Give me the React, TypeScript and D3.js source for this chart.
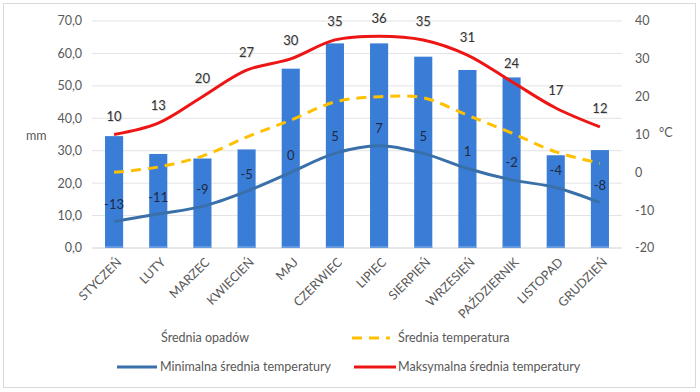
import React from "react";
import * as d3 from "d3";

const months = ["STYCZEŃ", "LUTY", "MARZEC", "KWIECIEŃ", "MAJ", "CZERWIEC", "LIPIEC", "SIERPIEŃ", "WRZESIEŃ", "PAŹDZIERNIK", "LISTOPAD", "GRUDZIEŃ"];
const rainfall = [34.5, 29.0, 27.6, 30.4, 55.3, 63.1, 63.1, 59.0, 54.9, 52.6, 28.6, 30.2];
const meanTemp = [0, 1.4, 4.3, 9.3, 13.8, 18.6, 20, 19.7, 15.1, 10.4, 5.4, 2.4];
const minTemp = [-13, -11, -9, -5, 0, 5, 7, 5, 1, -2, -4, -8];
const maxTemp = [10, 13, 20, 27, 30, 35, 36, 35, 31, 24, 17, 12];
const leftTicks = [0, 10, 20, 30, 40, 50, 60, 70];
const rightTicks = [-20, -10, 0, 10, 20, 30, 40];

const W = 700;
const H = 392;
const M = { left: 92, right: 78, top: 21, bottom: 144 };
const FONT = "Lato, 'Open Sans', sans-serif";
const GRAY = "#595959";

export default function App() {
  const x = d3.scaleBand().domain(months).range([M.left, W - M.right]).paddingInner(0.59).paddingOuter(0.295);
  const yL = d3.scaleLinear().domain([0, 70]).range([H - M.bottom, M.top]);
  const yR = d3.scaleLinear().domain([-20, 40]).range([H - M.bottom, M.top]);
  const cx = (m: string) => (x(m) as number) + x.bandwidth() / 2;
  const fmt = (v: number) => d3.format(".1f")(v).replace(".", ",");

  // smoothed like the excel lines
  const line = (vals: number[]) =>
    d3.line<number>()
      .x((_, i) => cx(months[i]))
      .y((d) => yR(d))
      .curve(d3.curveCatmullRom.alpha(0.5))(vals) as string;

  const baseY = yL(0);

  return (
    <svg width={W} height={H} style={{ position: "absolute", left: 0, top: 0, fontFamily: FONT }}>
      <rect x={3.5} y={3.5} width={692} height={384} fill="#fff" stroke="#d9d9d9" />
      {leftTicks.map((t) => (
        <g key={t}>
          <line x1={M.left} x2={W - M.right} y1={yL(t)} y2={yL(t)} stroke={t === 0 ? "#d0d0d0" : "#e3e3e3"} strokeWidth={1} />
          <text x={82} y={yL(t)} dy="0.35em" textAnchor="end" fontSize={12.5} fill={GRAY}>{fmt(t)}</text>
        </g>
      ))}
      {rightTicks.map((t) => (
        <text key={t} x={635} y={yR(t)} dy="0.35em" textAnchor="start" fontSize={12.5} fill={GRAY}>{t}</text>
      ))}
      <text x={26} y={136} dy="0.35em" fontSize={12.5} fill={GRAY}>mm</text>
      <text x={659} y={133} dy="0.35em" fontSize={12.5} fill={GRAY}>°C</text>

      {months.map((m, i) => (
        <rect key={m} x={x(m)} y={yL(rainfall[i])} width={x.bandwidth()} height={baseY - yL(rainfall[i])} fill="#3a7dd6" />
      ))}
      {months.map((m) => (
        <line key={m} x1={x(m) as number} x2={(x(m) as number) + x.bandwidth()} y1={baseY - 1} y2={baseY - 1} stroke="#8fb7ea" strokeWidth={1} />
      ))}

      <path d={line(meanTemp)} fill="none" stroke="#ffc000" strokeWidth={3} strokeDasharray="10,7" />
      <path d={line(minTemp)} fill="none" stroke="#3a70aa" strokeWidth={3} />
      <path d={line(maxTemp)} fill="none" stroke="#ee1515" strokeWidth={3} />

      {months.map((m, i) => (
        <text key={m} x={cx(m)} y={yR(minTemp[i]) - 17} dy="0.35em" textAnchor="middle" fontSize={13} fill="#1f2a44">{minTemp[i]}</text>
      ))}
      {months.map((m, i) => (
        <g key={m}>
          <text x={cx(m) + 0.8} y={yR(maxTemp[i]) - 17.2} dy="0.35em" textAnchor="middle" fontSize={13} fill="#d6d6d6">{maxTemp[i]}</text>
          <text x={cx(m)} y={yR(maxTemp[i]) - 18} dy="0.35em" textAnchor="middle" fontSize={13} fill="#333333">{maxTemp[i]}</text>
        </g>
      ))}

      {months.map((m) => (
        <text key={m} transform={`translate(${cx(m) + 5},${baseY + 12}) rotate(-45)`} textAnchor="end" fontSize={12.5} fill={GRAY} dy="0.35em">{m}</text>
      ))}

      <g fontSize={12.5} fill={GRAY}>
        <text x={161} y={338} dy="0.35em">Średnia opadów</text>
        <line x1={352} x2={390} y1={338} y2={338} stroke="#ffc000" strokeWidth={3} strokeDasharray="10,7" />
        <text x={398} y={338} dy="0.35em">Średnia temperatura</text>
        <line x1={117} x2={157} y1={367} y2={367} stroke="#3a70aa" strokeWidth={3} />
        <text x={160} y={367} dy="0.35em">Minimalna średnia temperatury</text>
        <line x1={354} x2={396} y1={367} y2={367} stroke="#ee1515" strokeWidth={3} />
        <text x={398} y={367} dy="0.35em">Maksymalna średnia temperatury</text>
      </g>
    </svg>
  );
}
